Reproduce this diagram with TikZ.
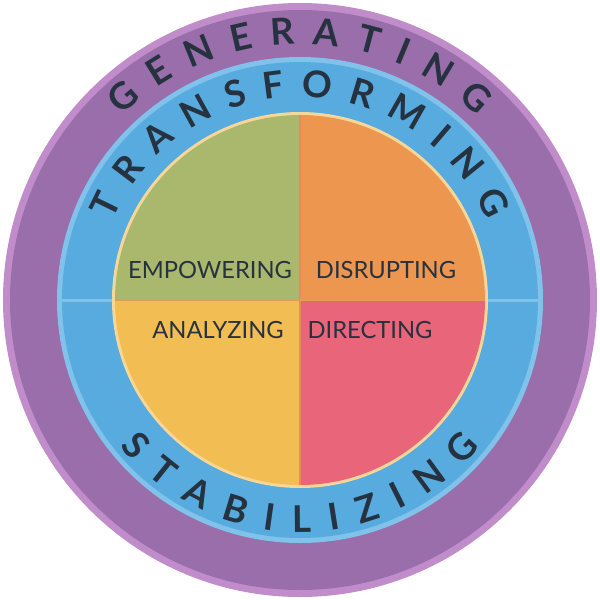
\documentclass[tikz,border=0pt]{standalone}
\usepackage{fontspec}
\setmainfont{Lato}
\usetikzlibrary{decorations.text}
\definecolor{rimpurple}{HTML}{C08DCA}
\definecolor{ringpurple}{HTML}{9A6DAB}
\definecolor{rimblue}{HTML}{80C2EA}
\definecolor{ringblue}{HTML}{58ABDF}
\definecolor{qgreen}{HTML}{AAB86D}
\definecolor{qorange}{HTML}{EC9650}
\definecolor{qyellow}{HTML}{F2BD52}
\definecolor{qred}{HTML}{E9667A}
\definecolor{ink}{HTML}{26323F}
\tikzset{
  fittext/.style={decorate, decoration={text along path, text={#1},
    text align={fit to path}, text color=ink}},
  quad/.style={text=ink, font=\fontsize{13.5}{16}\selectfont}
}
\begin{document}
\begin{tikzpicture}[x=0.02cm, y=0.02cm]
\useasboundingbox (-300,-300) rectangle (300,300);

% rings
\fill[rimpurple] (0,0) circle (297);
\fill[ringpurple] (0,0) circle (290);
\fill[rimblue] (0,0) circle (243);
\fill[ringblue] (0,0) circle (238);
\fill[rimblue] (-243,-1.5) rectangle (243,1.5);
\fill[qyellow!60!white] (0,0) circle (188);

% quadrants
\fill[qgreen] (0,0) -- (-185,0) arc (180:90:185) -- cycle;
\fill[qorange] (0,0) -- (0,185) arc (90:0:185) -- cycle;
\fill[qyellow] (0,0) -- (0,-185) arc (270:180:185) -- cycle;
\fill[qred] (0,0) -- (185,0) arc (0:-90:185) -- cycle;
\draw[qorange!70!qred, line width=0.04cm] (0,-185) -- (0,185);
\draw[qorange!80!qgreen, line width=0.04cm] (-185,0) -- (185,0);

% ring labels
\path[fittext={|\fontsize{21}{24}\selectfont\bfseries|GENERATING}] (134:256) arc (134:46:256);
\path[fittext={|\fontsize{21}{24}\selectfont\bfseries|TRANSFORMING}] (157:203) arc (157:23:203);
\path[fittext={|\fontsize{21}{24}\selectfont\bfseries|STABILIZING}] (219:232) arc (219:321:232);

% quadrant labels
\node[quad] (empowering) at (-90,30) {EMPOWERING};
\node[quad] (disrupting) at (86,30) {DISRUPTING};
\node[quad] (analyzing) at (-82,-30) {ANALYZING};
\node[quad] (directing) at (70,-30) {DIRECTING};
\end{tikzpicture}
\end{document}
